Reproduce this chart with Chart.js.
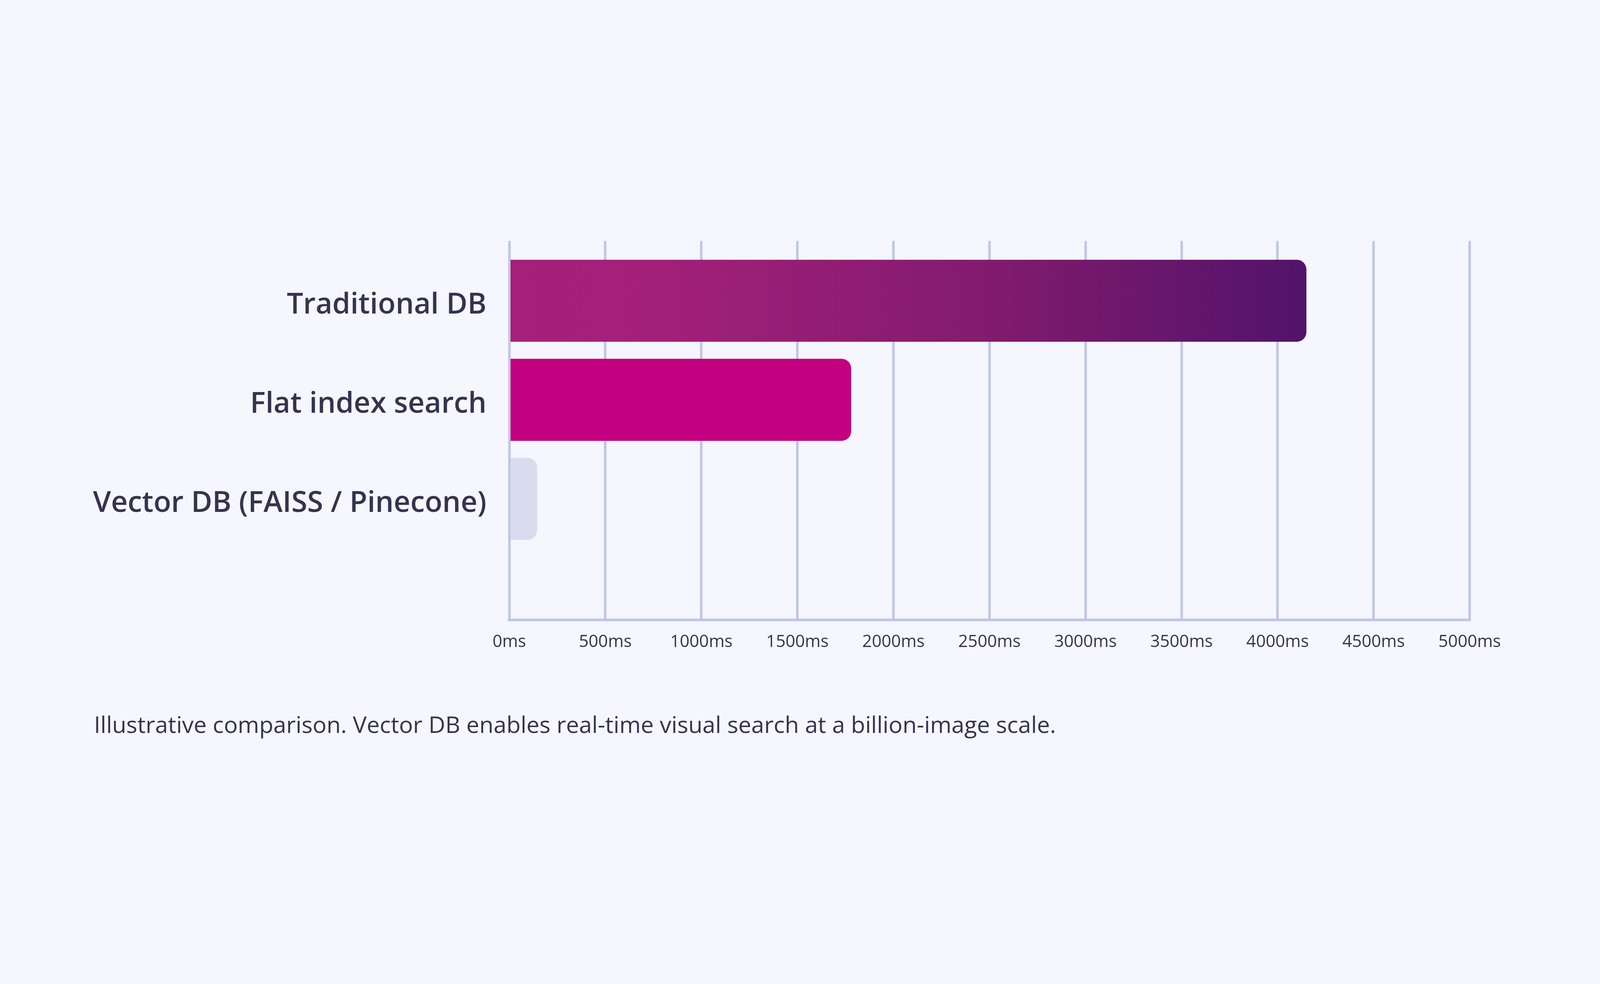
<!DOCTYPE html>
<html>
<head>
<meta charset="utf-8">
<script src="https://cdn.jsdelivr.net/npm/chart.js@4.4.1/dist/chart.umd.min.js"></script>
<style>
  html, body { margin: 0; padding: 0; background: #F5F6FE; overflow: hidden; }
  #wrap { position: relative; background: #F5F6FE; overflow: hidden; }
  #chartBox { position: absolute; left: 0; top: 0; }
  #caption { position: absolute; white-space: nowrap; color: #34344E; line-height: 1; font-family: "Open Sans", sans-serif; }
</style>
</head>
<body>
<div id="wrap">
  <div id="chartBox"><canvas id="c"></canvas></div>
  <div id="caption">Illustrative comparison. Vector DB enables real-time visual search at a billion-image scale.</div>
</div>
<script>
// ---- data ----
const categories = ['Traditional DB', 'Flat index search', 'Vector DB (FAISS / Pinecone)'];
const latencyMs = [4150, 1780, 145];
const tickLabels = ['0ms', '500ms', '1000ms', '1500ms', '2000ms', '2500ms', '3000ms', '3500ms', '4000ms', '4500ms', '5000ms'];
const captionText = 'Illustrative comparison. Vector DB enables real-time visual search at a billion-image scale.';

// ---- layout (reference designed at 4480 x 2520) ----
const W = window.innerWidth || 4480;
const H = window.innerHeight || 2520;
const sx = W / 4480, sy = H / 2520;
const X = (v) => v * sx, Y = (v) => v * sy;

const wrap = document.getElementById('wrap');
wrap.style.width = W + 'px'; wrap.style.height = H + 'px';
const box = document.getElementById('chartBox');
box.style.width = W + 'px'; box.style.height = H + 'px';

// ---- style ----
const FONT = '"Open Sans", sans-serif';
const textColor = '#34344E';
const gridColor = '#C0C7E2';
const barSolid = [null, '#C3007F', '#D9DCEE'];
const yMin = -0.604, yMax = 3.22;

function fitSize(text, weight, target) {
  const m = document.createElement('canvas').getContext('2d');
  m.font = weight + ' 100px ' + FONT;
  return 100 * target / m.measureText(text).width;
}
const labelSize = fitSize(categories[2], 600, X(1102));
const tickSize = fitSize('5000ms', 400, X(175));
const captionSize = fitSize(captionText, 400, X(2694));

const cap = document.getElementById('caption');
cap.textContent = captionText;
cap.style.fontSize = captionSize + 'px';
cap.style.left = X(263) + 'px';
cap.style.top = (Y(1878) - 0.89 * captionSize) + 'px';

const data = {
  labels: categories,
  datasets: [{
    data: latencyMs.map((v, i) => ({ x: v, y: i })),
    backgroundColor: (ctx) => {
      const i = ctx.dataIndex;
      if (i !== 0) return barSolid[i];
      const chart = ctx.chart;
      if (!chart.chartArea) return '#A6207A';
      const xs = chart.scales.x;
      const x0 = xs.getPixelForValue(0);
      const x1 = xs.getPixelForValue(latencyMs[0]);
      const g = chart.ctx.createLinearGradient(x0, 0, x1, 0);
      g.addColorStop(0, '#A61F7A');
      g.addColorStop(0.18, '#A3207A');
      g.addColorStop(0.6, '#821B6E');
      g.addColorStop(1, '#52136A');
      return g;
    },
    borderWidth: 0,
    borderRadius: X(27),
    borderSkipped: 'start',
    barPercentage: 0.828,
    categoryPercentage: 1
  }]
};

new Chart(document.getElementById('c'), {
  type: 'bar',
  data,
  options: {
    indexAxis: 'y',
    responsive: true,
    maintainAspectRatio: false,
    animation: false,
    layout: { padding: { top: Y(617), right: W - X(4115), bottom: 0, left: 0 } },
    plugins: { legend: { display: false }, tooltip: { enabled: false }, title: { display: false } },
    scales: {
      x: {
        type: 'linear',
        position: 'bottom',
        min: 0,
        max: 5000,
        offset: false,
        ticks: {
          stepSize: 500,
          color: textColor,
          padding: Y(32),
          font: { family: FONT, size: tickSize, weight: 400 },
          maxRotation: 0,
          autoSkip: false,
          callback: (v, i) => tickLabels[i]
        },
        grid: { color: gridColor, lineWidth: X(7), drawTicks: false, offset: false },
        border: { display: true, color: gridColor, width: Y(7) },
        afterFit: (s) => { s.height = H - Y(1587); }
      },
      y: {
        type: 'linear',
        reverse: true,
        offset: false,
        bounds: 'data',
        grace: 0,
        min: yMin,
        max: yMax,
        afterDataLimits: (s) => { s.min = yMin; s.max = yMax; },
        afterBuildTicks: (s) => { s.min = yMin; s.max = yMax; s.ticks = categories.map((_, i) => ({ value: i })); },
        ticks: {
          color: textColor,
          padding: X(55),
          labelOffset: Y(12),
          font: { family: FONT, size: labelSize, weight: 600 },
          autoSkip: false,
          callback: (v) => categories[v]
        },
        grid: { display: false, offset: false },
        border: { display: false },
        afterFit: (s) => { s.width = X(1426); }
      }
    }
  }
});
</script>
</body>
</html>
